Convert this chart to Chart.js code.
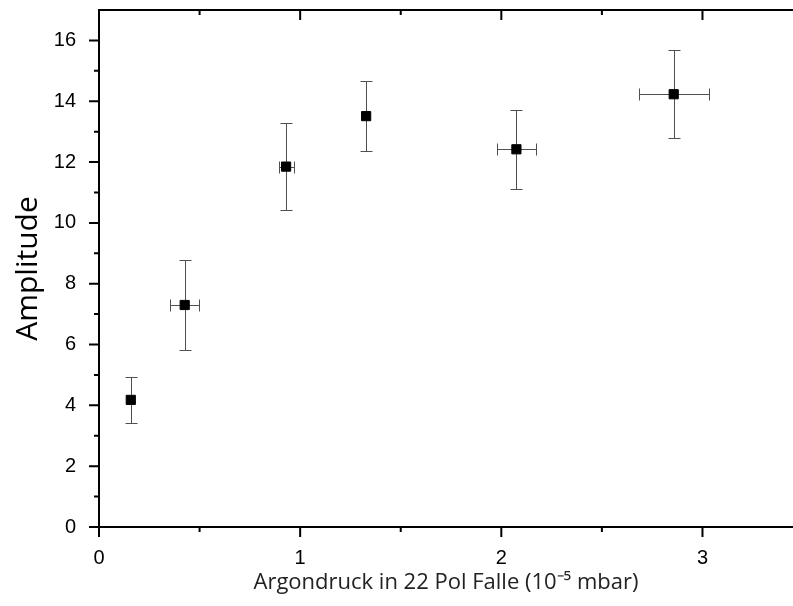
<!DOCTYPE html>
<html>
<head>
<meta charset="utf-8">
<script src="https://cdn.jsdelivr.net/npm/chart.js@4.4.1/dist/chart.umd.min.js"></script>
<style>
  html, body { margin: 0; padding: 0; background: #fff; }
  #wrap { width: 793px; height: 606px; }
</style>
</head>
<body>
<div id="wrap"><canvas id="chart"></canvas></div>
<script>
// Messdaten: Argondruck (10^-5 mbar) gegen Amplitude
const pressure = [0.158, 0.426, 0.930, 1.328, 2.075, 2.857];
const pressureErr = [0, 0.071, 0.037, 0, 0.096, 0.173];
const amplitude = [4.18, 7.30, 11.85, 13.51, 12.42, 14.23];
const amplitudeErr = [0.75, 1.47, 1.42, 1.14, 1.30, 1.45];

const xMajor = [0, 1, 2, 3];
const xMinor = [0.5, 1.5, 2.5];
const yMajor = [0, 2, 4, 6, 8, 10, 12, 14, 16];
const yMinor = [1, 3, 5, 7, 9, 11, 13, 15];

const xTitle = 'Argondruck in 22 Pol Falle (10⁻⁵ mbar)';
const yTitle = 'Amplitude';

const tickFont = { family: '"Liberation Sans", Arial, sans-serif', size: 20 };
const titleFont = { family: '"Open Sans", sans-serif', size: 22 };

// Fehlerbalken mit Kappen, vor den Punkten gezeichnet
const errorBars = {
  id: 'errorBars',
  beforeDatasetsDraw(chart) {
    const { ctx, scales: { x, y } } = chart;
    const cap = 6;
    ctx.save();
    ctx.strokeStyle = '#505050';
    ctx.lineWidth = 1;
    pressure.forEach((p, i) => {
      const px = Math.round(x.getPixelForValue(p)) + 0.5;
      const py = Math.round(y.getPixelForValue(amplitude[i])) + 0.5;
      const yTop = Math.round(y.getPixelForValue(amplitude[i] + amplitudeErr[i])) + 0.5;
      const yBot = Math.round(y.getPixelForValue(amplitude[i] - amplitudeErr[i])) + 0.5;
      ctx.beginPath();
      ctx.moveTo(px, yTop); ctx.lineTo(px, yBot);
      ctx.moveTo(px - cap, yTop); ctx.lineTo(px + cap, yTop);
      ctx.moveTo(px - cap, yBot); ctx.lineTo(px + cap, yBot);
      if (pressureErr[i] > 0) {
        const xl = Math.round(x.getPixelForValue(p - pressureErr[i])) + 0.5;
        const xr = Math.round(x.getPixelForValue(p + pressureErr[i])) + 0.5;
        ctx.moveTo(xl, py); ctx.lineTo(xr, py);
        ctx.moveTo(xl, py - cap); ctx.lineTo(xl, py + cap);
        ctx.moveTo(xr, py - cap); ctx.lineTo(xr, py + cap);
      }
      ctx.stroke();
    });
    ctx.restore();
  }
};

// Achsenrahmen (links, unten, oben) mit Haupt- und Nebenstrichen
const axesFrame = {
  id: 'axesFrame',
  afterDraw(chart) {
    const { ctx, chartArea: a, scales: { x, y } } = chart;
    ctx.save();
    ctx.strokeStyle = '#000';
    ctx.lineWidth = 2;
    ctx.beginPath();
    ctx.moveTo(a.left, a.top); ctx.lineTo(a.left, a.bottom);
    ctx.moveTo(a.left - 1, a.bottom); ctx.lineTo(a.right, a.bottom);
    ctx.moveTo(a.left - 1, a.top); ctx.lineTo(a.right, a.top);
    const xt = (v, len) => {
      const px = x.getPixelForValue(v);
      ctx.moveTo(px, a.bottom); ctx.lineTo(px, a.bottom + len);
      ctx.moveTo(px, a.top); ctx.lineTo(px, a.top + len);
    };
    const yt = (v, len) => {
      const py = y.getPixelForValue(v);
      ctx.moveTo(a.left, py); ctx.lineTo(a.left - len, py);
    };
    xMajor.forEach(v => xt(v, 10));
    xMinor.forEach(v => xt(v, 5));
    yMajor.forEach(v => yt(v, 10));
    yMinor.forEach(v => yt(v, 5));
    ctx.stroke();
    ctx.restore();
  }
};

new Chart(document.getElementById('chart'), {
  type: 'scatter',
  data: {
    datasets: [{
      data: pressure.map((p, i) => ({ x: p, y: amplitude[i] })),
      pointStyle: 'rect',
      pointRadius: 6.5,
      pointHoverRadius: 6.5,
      backgroundColor: '#000',
      borderColor: '#000',
      borderWidth: 1
    }]
  },
  options: {
    responsive: true,
    maintainAspectRatio: false,
    animation: false,
    layout: { autoPadding: false, padding: { top: 10, right: 0, left: 0, bottom: 0 } },
    plugins: { legend: { display: false }, tooltip: { enabled: false } },
    scales: {
      x: {
        type: 'linear',
        min: 0,
        max: 3.45,
        grid: { display: false },
        border: { display: false },
        afterBuildTicks: s => { s.ticks = xMajor.map(v => ({ value: v })); },
        afterFit: s => { s.height = 79; s.paddingLeft = 0; s.paddingRight = 0; },
        ticks: { color: '#000', font: tickFont, padding: 11, maxRotation: 0 },
        title: { display: true, text: xTitle, color: '#222', font: titleFont, padding: { top: 0, bottom: 10 } }
      },
      y: {
        min: 0,
        max: 17,
        grid: { display: false },
        border: { display: false },
        afterBuildTicks: s => { s.ticks = yMajor.map(v => ({ value: v })); },
        afterFit: s => { s.width = 99; s.paddingTop = 0; s.paddingBottom = 0; },
        ticks: { color: '#000', font: tickFont, padding: 15 },
        title: { display: true, text: yTitle, color: '#000', font: { family: '"Open Sans", sans-serif', size: 30 }, padding: { top: 10, bottom: 0 } }
      }
    }
  },
  plugins: [errorBars, axesFrame]
});
</script>
</body>
</html>
